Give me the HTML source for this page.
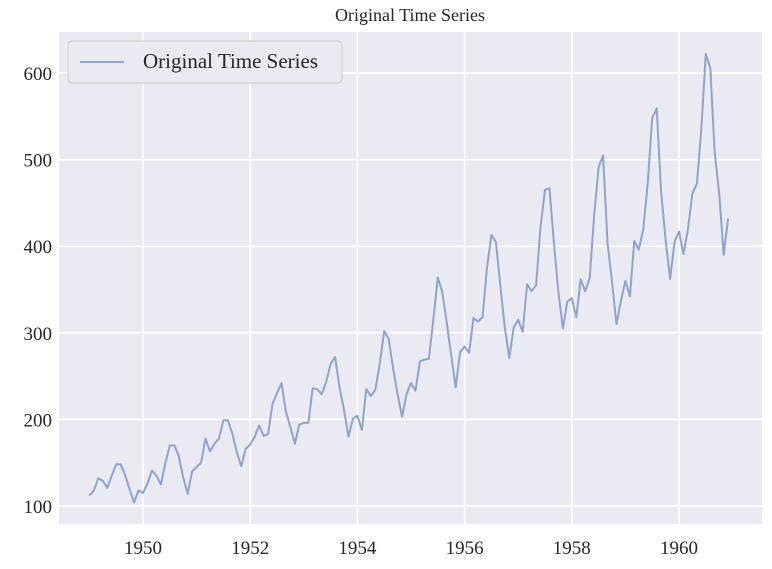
<!DOCTYPE html>
<html><head><meta charset="utf-8"><style>
body{margin:0;background:#fff;}
svg text{font-family:"Liberation Serif",serif;fill:#262626;}
</style></head><body>
<svg width="772" height="564" viewBox="0 0 772 564">
<text x="410" y="21" font-size="18" text-anchor="middle">Original Time Series</text>
<rect x="59" y="32" width="703" height="492" fill="#eaeaf2"/>
<g id="grid"></g>
<g id="ticks"></g>
<path id="line" fill="none" stroke="#8fa3cc" stroke-width="2" stroke-linejoin="round"/>
<g>
<rect x="68" y="41" width="274" height="42" rx="4" fill="#eaeaf2" stroke="#cccccc"/>
<line x1="80" y1="62" x2="124" y2="62" stroke="#8fa3cc" stroke-width="2"/>
<text x="143" y="68" font-size="21">Original Time Series</text>
</g>
</svg>
<script>
const years=[1949,1950,1951,1952,1953,1954,1955,1956,1957,1958,1959,1960];
const passengers=[112,118,132,129,121,135,148,148,136,119,104,118,
115,126,141,135,125,149,170,170,158,133,114,140,
145,150,178,163,172,178,199,199,184,162,146,166,
171,180,193,181,183,218,230,242,209,191,172,194,
196,196,236,235,229,243,264,272,237,211,180,201,
204,188,235,227,234,264,302,293,259,229,203,229,
242,233,267,269,270,315,364,347,312,274,237,278,
284,277,317,313,318,374,413,405,355,306,271,306,
315,301,356,348,355,422,465,467,404,347,305,336,
340,318,362,348,363,435,491,505,404,359,310,337,
360,342,406,396,420,472,548,559,463,407,362,405,
417,391,419,461,472,535,622,606,508,461,390,432];
const xTicks=[1950,1952,1954,1956,1958,1960];
const yTicks=[100,200,300,400,500,600];
const X=t=>143+(t-1950)*53.6;
const Y=v=>506-(v-100)*0.866;
const ns="http://www.w3.org/2000/svg";
const grid=document.getElementById('grid'),ticks=document.getElementById('ticks');
function mk(tag,attrs,parent){const e=document.createElementNS(ns,tag);for(const k in attrs)e.setAttribute(k,attrs[k]);parent.appendChild(e);return e;}
xTicks.forEach(t=>{
 const l=mk('line',{x1:X(t),x2:X(t),y1:32,y2:524,stroke:'#fff','stroke-width':1.5},grid);
 
 
 const tx=mk('text',{x:X(t),y:554,'font-size':19,'text-anchor':'middle'},ticks);tx.textContent=t;
 
 
});
yTicks.forEach(v=>{
 const l=mk('line',{x1:59,x2:762,y1:Y(v),y2:Y(v),stroke:'#fff','stroke-width':1.5},grid);
 
 
 const tx=mk('text',{x:52,y:Y(v)+7,'font-size':19,'text-anchor':'end'},ticks);tx.textContent=v;
 
 
});
let d='';
passengers.forEach((v,i)=>{const t=years[0]+i/12;d+=(i?'L':'M')+X(t).toFixed(1)+','+Y(v).toFixed(1);});
document.getElementById('line').setAttribute('d',d);
</script>
</body></html>
